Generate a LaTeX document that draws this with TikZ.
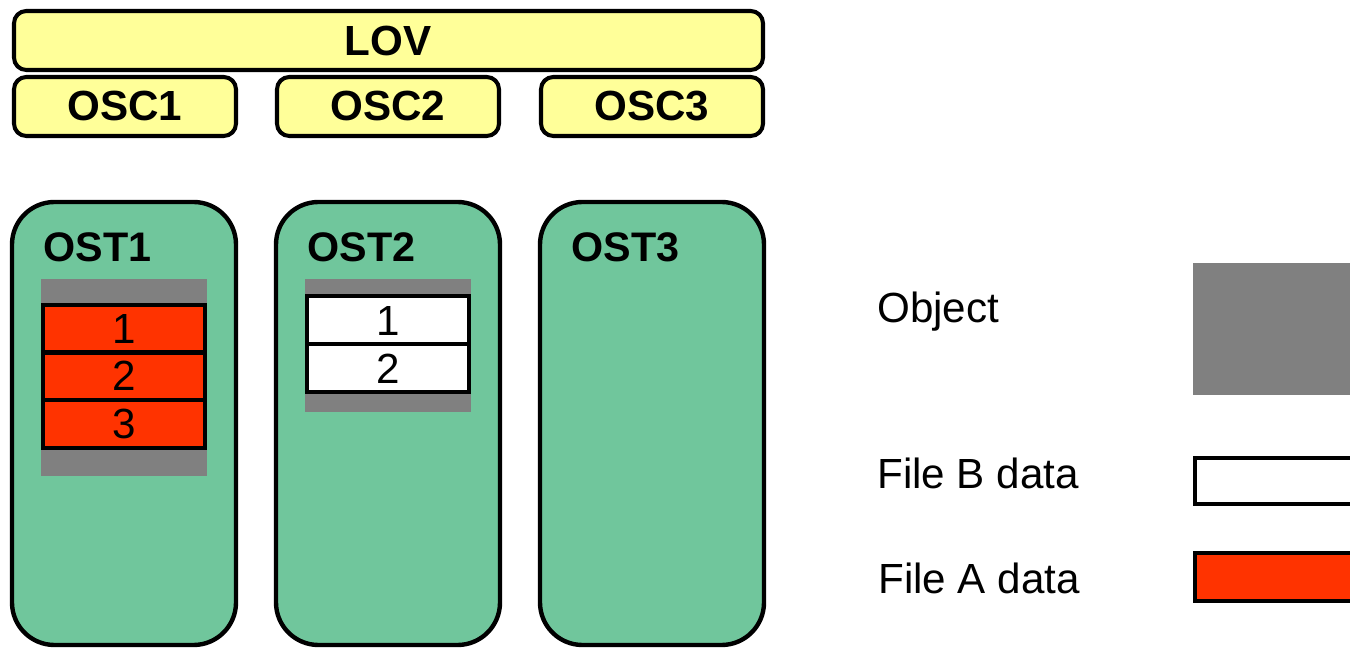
\documentclass[tikz,border=0pt]{standalone}
\usepackage{fontspec}
\setmainfont{Liberation Sans}
\definecolor{lovyellow}{HTML}{FFFF99}
\definecolor{ostgreen}{HTML}{70C69C}
\definecolor{objgray}{HTML}{808080}
\definecolor{filered}{HTML}{FF3300}
\tikzset{
  ybox/.style={draw=black,line width=2.3pt,rounded corners=7pt,fill=lovyellow},
  ostbox/.style={draw=black,line width=2.5pt,rounded corners=0.85cm,fill=ostgreen},
  obj/.style={fill=objgray},
  chunk/.style={draw=black,line width=2.3pt},
  big/.style={font=\fontsize{24}{28}\selectfont},
  bigb/.style={font=\fontsize{24}{28}\selectfont\bfseries},
}
\begin{document}
\begin{tikzpicture}[x=0.02cm,y=-0.02cm]
\clip (0,0) rectangle (1350,648);

  % LOV and OSCs
  \draw[ybox] (14,11) rectangle (763,70);
  \node[bigb] (lov) at (388,41) {LOV};
  \foreach \i/\x in {1/14,2/277,3/541}{
    \draw[ybox] (\x,77) rectangle ++(222,59);
    \node[bigb] (osc\i) at (\x+111,106) {OSC\i};
  }

  % OSTs
  \foreach \i/\x in {1/12,2/276,3/540}{
    \draw[ostbox] (\x,202) rectangle ++(224,443);
    \node[anchor=base west,inner sep=0pt,font=\fontsize{23.5}{28}\selectfont\bfseries] (ost\i) at (\x+31,262) {OST\i};
  }

  % object on OST1, file A
  \fill[obj] (41,279) rectangle (207,476);
  \fill[filered] (43,305) rectangle (205,448);
  \foreach \j/\y in {1/305,2/352,3/400}{
    \draw[chunk] (43,\y) rectangle ++(162,48);
    \node[big] (a\j) at (124,\y+24) {\j};
  }

  % object on OST2, file B
  \fill[obj] (305,279) rectangle (471,412);
  \fill[white] (307,296) rectangle (469,392);
  \foreach \j/\y in {1/296,2/344}{
    \draw[chunk] (307,\y) rectangle ++(162,48);
    \node[big] (b\j) at (388,\y+25) {\j};
  }

  % legend
  \node[big,anchor=base west,inner sep=0pt] (lobj) at (877,323) {Object};
  \fill[obj] (1193,263) rectangle (1360,395);
  \node[big,anchor=base west,inner sep=0pt] (lb) at (877,489) {File B data};
  \draw[chunk,fill=white] (1195,458) rectangle (1360,504);
  \node[big,anchor=base west,inner sep=0pt] (la) at (878,594) {File A data};
  \draw[chunk,fill=filered] (1195,553) rectangle (1360,601);
\end{tikzpicture}
\end{document}
